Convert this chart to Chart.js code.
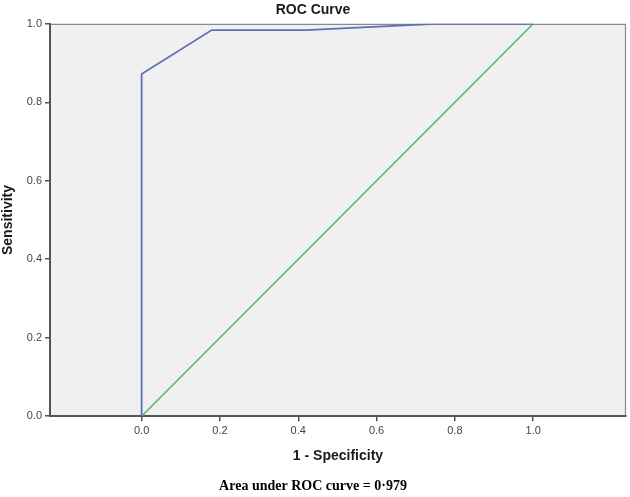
<!DOCTYPE html>
<html>
<head>
<meta charset="utf-8">
<script src="https://cdn.jsdelivr.net/npm/chart.js@4/dist/chart.umd.min.js"></script>
<style>
  html, body { margin: 0; padding: 0; background: #fff; }
  #wrap { width: 630px; height: 497px; }
</style>
</head>
<body>
<div id="wrap"><canvas id="chartCanvas"></canvas></div>
<script>
// ROC curve points (1 - specificity, sensitivity)
const rocX = [0, 0, 0.179, 0.42, 0.75, 1.0];
const rocY = [0, 0.872, 0.984, 0.984, 1.0, 1.0];
// reference diagonal
const refX = [0, 1];
const refY = [0, 1];
// tick labels
const xTicks = [0, 0.2, 0.4, 0.6, 0.8, 1.0];
const yTicks = [0, 0.2, 0.4, 0.6, 0.8, 1.0];

function toPoints(xs, ys) {
  return xs.map((x, i) => ({ x: x, y: ys[i] }));
}

// grey plot background and frame, like the SPSS output
const plotFrame = {
  id: 'plotFrame',
  beforeDraw(chart) {
    const a = chart.chartArea;
    const ctx = chart.ctx;
    ctx.save();
    ctx.fillStyle = '#f0f0f0';
    ctx.fillRect(a.left, a.top, a.right - a.left, a.bottom - a.top);
    ctx.strokeStyle = '#8a8a8a';
    ctx.lineWidth = 1.2;
    ctx.beginPath();
    ctx.moveTo(a.left, a.top + 0.5);
    ctx.lineTo(a.right - 0.5, a.top + 0.5);
    ctx.lineTo(a.right - 0.5, a.bottom);
    ctx.stroke();
    ctx.restore();
  }
};

function renderChart() {
  const ctx = document.getElementById('chartCanvas').getContext('2d');
  new Chart(ctx, {
    type: 'scatter',
    data: {
      datasets: [{
        data: toPoints(rocX, rocY),
        showLine: true,
        borderColor: '#5f71b6',
        borderWidth: 1.8,
        pointRadius: 0,
        fill: false
      }, {
        data: toPoints(refX, refY),
        showLine: true,
        borderColor: '#4fbd62',
        borderWidth: 1.6,
        pointRadius: 0,
        fill: false
      }]
    },
    options: {
      responsive: true,
      maintainAspectRatio: false,
      animation: false,
      layout: { padding: { left: 0, right: 4, top: 0, bottom: 0 } },
      plugins: {
        legend: { display: false },
        tooltip: { enabled: false },
        title: {
          display: true,
          text: 'ROC Curve',
          color: '#1a1a1a',
          font: { family: 'Liberation Sans', size: 14, weight: 'bold' },
          padding: { top: 2, bottom: 5 }
        },
        subtitle: {
          display: true,
          position: 'bottom',
          text: 'Area under ROC curve = 0·979',
          color: '#000',
          font: { family: 'Liberation Serif', size: 14, weight: 'bold' },
          padding: { top: 2, bottom: 2 }
        }
      },
      scales: {
        x: {
          type: 'linear',
          min: -0.234,
          max: 1.237,
          afterBuildTicks: axis => { axis.ticks = xTicks.map(v => ({ value: v })); },
          afterFit: axis => { axis.height = 60; },
          grid: { display: true, drawOnChartArea: false, tickLength: 5, color: '#555', lineWidth: 1.5 },
          border: { display: true, color: '#555', width: 2 },
          ticks: {
            color: '#444',
            padding: 3,
            font: { family: 'Liberation Sans', size: 11 },
            callback: v => v.toFixed(1)
          },
          title: {
            display: true,
            text: '1 - Specificity',
            color: '#1a1a1a',
            font: { family: 'Liberation Sans', size: 14, weight: 'bold' },
            padding: { top: 0, bottom: 12 }
          }
        },
        y: {
          type: 'linear',
          min: 0,
          max: 1,
          afterBuildTicks: axis => { axis.ticks = yTicks.map(v => ({ value: v })); },
          afterFit: axis => { axis.width = 50; },
          grid: { display: true, drawOnChartArea: false, tickLength: 5, color: '#555', lineWidth: 1.5 },
          border: { display: true, color: '#555', width: 2 },
          ticks: {
            color: '#444',
            padding: 3,
            font: { family: 'Liberation Sans', size: 11 },
            callback: v => v.toFixed(1)
          },
          title: {
            display: true,
            text: 'Sensitivity',
            color: '#1a1a1a',
            font: { family: 'Liberation Sans', size: 14, weight: 'bold' },
            padding: { top: 0, bottom: 2 }
          }
        }
      }
    },
    plugins: [plotFrame]
  });
}

window.onload = function() {
  renderChart();
};
</script>
</body>
</html>
